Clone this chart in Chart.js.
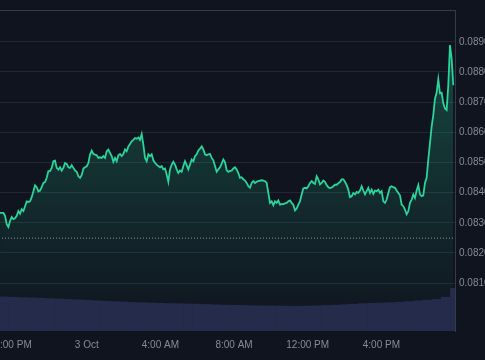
<!DOCTYPE html>
<html>
<head>
<meta charset="utf-8">
<script src="https://cdn.jsdelivr.net/npm/chart.js@4/dist/chart.umd.min.js"></script>
<style>
  html, body { margin: 0; padding: 0; background: #10141f; overflow: hidden; }
  body { width: 485px; height: 360px; position: relative; }
  #wrap { position: absolute; left: -40px; top: 0; width: 540px; height: 360px; }
</style>
</head>
<body>
<div id="wrap"><canvas id="priceChart"></canvas></div>
<script>
// -----------------------------
// Data (minutes from 00:00, 3 Oct)
// -----------------------------
const priceStartMin = -282.5;
const priceStepMin = 5.43;
const prices = [
  0.08333, 0.08333, 0.08333, 0.08323, 0.08295, 0.08286, 0.08306, 0.08319, 0.08312, 0.08315,
  0.08323, 0.08339, 0.08330, 0.08345, 0.08339, 0.08355, 0.08371, 0.08369, 0.08371, 0.08385,
  0.08404, 0.08424, 0.08418, 0.08404, 0.08407, 0.08418, 0.08432, 0.08435, 0.08449, 0.08471,
  0.08471, 0.08482, 0.08504, 0.08506, 0.08482, 0.08476, 0.08484, 0.08473, 0.08482, 0.08498,
  0.08495, 0.08484, 0.08482, 0.08491, 0.08482, 0.08473, 0.08469, 0.08454, 0.08449, 0.08458,
  0.08480, 0.08484, 0.08487, 0.08498, 0.08526, 0.08539, 0.08528, 0.08526, 0.08524, 0.08515,
  0.08517, 0.08515, 0.08521, 0.08515, 0.08537, 0.08543, 0.08532, 0.08521, 0.08502, 0.08515,
  0.08504, 0.08524, 0.08528, 0.08521, 0.08528, 0.08543, 0.08537, 0.08553, 0.08561, 0.08570,
  0.08575, 0.08581, 0.08579, 0.08583, 0.08575, 0.08594, 0.08559, 0.08515, 0.08504, 0.08527,
  0.08521, 0.08527, 0.08507, 0.08499, 0.08493, 0.08488, 0.08484, 0.08488, 0.08477, 0.08480,
  0.08460, 0.08436, 0.08477, 0.08493, 0.08502, 0.08493, 0.08477, 0.08465, 0.08473, 0.08469,
  0.08488, 0.08504, 0.08491, 0.08477, 0.08493, 0.08510, 0.08504, 0.08521, 0.08527, 0.08540,
  0.08546, 0.08553, 0.08543, 0.08527, 0.08524, 0.08527, 0.08528, 0.08515, 0.08507, 0.08488,
  0.08469, 0.08477, 0.08484, 0.08496, 0.08510, 0.08501, 0.08474, 0.08469, 0.08472, 0.08473,
  0.08480, 0.08484, 0.08477, 0.08465, 0.08449, 0.08451, 0.08444, 0.08440, 0.08432, 0.08421,
  0.08416, 0.08432, 0.08438, 0.08432, 0.08436, 0.08438, 0.08440, 0.08441, 0.08440, 0.08438,
  0.08432, 0.08399, 0.08366, 0.08371, 0.08358, 0.08371, 0.08366, 0.08374, 0.08360, 0.08362,
  0.08362, 0.08364, 0.08366, 0.08371, 0.08374, 0.08366, 0.08360, 0.08341, 0.08347, 0.08360,
  0.08371, 0.08394, 0.08414, 0.08416, 0.08414, 0.08421, 0.08432, 0.08438, 0.08432, 0.08429,
  0.08454, 0.08444, 0.08427, 0.08432, 0.08440, 0.08436, 0.08425, 0.08418, 0.08415, 0.08417,
  0.08421, 0.08426, 0.08426, 0.08431, 0.08435, 0.08444, 0.08444, 0.08436, 0.08425, 0.08410,
  0.08385, 0.08388, 0.08399, 0.08394, 0.08402, 0.08399, 0.08407, 0.08421, 0.08407, 0.08394,
  0.08405, 0.08416, 0.08399, 0.08410, 0.08396, 0.08407, 0.08405, 0.08410, 0.08399, 0.08405,
  0.08371, 0.08366, 0.08377, 0.08399, 0.08418, 0.08421, 0.08418, 0.08416, 0.08407, 0.08399,
  0.08391, 0.08360, 0.08355, 0.08344, 0.08328, 0.08338, 0.08366, 0.08377, 0.08394, 0.08382,
  0.08407, 0.08425, 0.08394, 0.08388, 0.08391, 0.08432, 0.08449, 0.08510, 0.08564, 0.08619,
  0.08657, 0.08712, 0.08731, 0.08776, 0.08729, 0.08731, 0.08696, 0.08679, 0.08674, 0.08756,
  0.08889, 0.08844, 0.08756
];

const prevClose = 0.08249;

const volStartMin = -300;
const volStepMin = 30;
const volumes = [
  10.68, 10.62, 10.53, 10.43, 10.34, 10.22, 10.09, 9.97, 9.85, 9.72,
  9.60, 9.44, 9.29, 9.16, 9.04, 8.92, 8.82, 8.73, 8.64, 8.54,
  8.48, 8.42, 8.36, 8.27, 8.17, 8.08, 8.02, 7.96, 7.89, 7.83,
  7.80, 7.77, 7.74, 7.74, 7.77, 7.83, 7.96, 8.05, 8.20, 8.36,
  8.51, 8.64, 8.73, 8.82, 8.98, 9.16, 9.38, 9.60, 9.85, 10.53,
  13.31
];

const tickTimes = [-240, 0, 240, 480, 720, 960];
const tickLabels = ["8:00 PM", "3 Oct", "4:00 AM", "8:00 AM", "12:00 PM", "4:00 PM"];
const priceTicks = [0.081, 0.082, 0.083, 0.084, 0.085, 0.086, 0.087, 0.088, 0.089];

const xMin = -413, xMax = 1200;

// -----------------------------
// Build datasets
// -----------------------------
const pricePoints = prices.map((p, i) => ({ x: priceStartMin + i * priceStepMin, y: p }));
const volPoints = volumes.map((v, i) => ({ x: volStartMin + i * volStepMin, y: v }));
const closePoints = [{ x: xMin, y: prevClose }, { x: xMax, y: prevClose }];

function areaGradient(ctx) {
  const area = ctx.chart.chartArea;
  if (!area) return 'rgba(42,212,154,0.15)';
  const g = ctx.chart.ctx.createLinearGradient(0, area.top, 0, area.bottom);
  g.addColorStop(0, 'rgba(42,212,154,0.30)');
  g.addColorStop(1, 'rgba(42,212,154,0.0)');
  return g;
}

const tickFont = { family: "'Liberation Sans', Arial, sans-serif", size: 10 };
const tickColor = '#868b96';

new Chart(document.getElementById('priceChart'), {
  data: {
    datasets: [
      {
        type: 'bar',
        data: volPoints,
        yAxisID: 'yVol',
        backgroundColor: '#252c4b',
        borderWidth: 0,
        barPercentage: 1,
        categoryPercentage: 1,
        clip: 0,
        order: 0
      },
      {
        type: 'line',
        data: closePoints,
        yAxisID: 'y',
        borderColor: '#8d929d',
        borderWidth: 1,
        borderDash: [1, 2],
        pointRadius: 0,
        fill: false,
        order: 1
      },
      {
        type: 'line',
        data: pricePoints,
        yAxisID: 'y',
        borderColor: '#2ad49a',
        borderWidth: 1.8,
        pointRadius: 0,
        tension: 0,
        fill: 'start',
        backgroundColor: areaGradient,
        order: 2
      }
    ]
  },
  options: {
    responsive: true,
    maintainAspectRatio: false,
    animation: false,
    layout: { padding: { top: 8, left: 0, right: 0, bottom: 0 } },
    plugins: { legend: { display: false }, tooltip: { enabled: false } },
    scales: {
      x: {
        type: 'linear',
        position: 'bottom',
        min: xMin,
        max: xMax,
        offset: false,
        grid: { display: false, drawTicks: false, offset: false },
        border: { display: false },
        afterBuildTicks: s => { s.ticks = tickTimes.map(v => ({ value: v })); },
        afterFit: s => { s.height = 29; },
        ticks: {
          padding: 8,
          maxRotation: 0,
          autoSkip: false,
          color: tickColor,
          font: tickFont,
          callback: v => tickLabels[tickTimes.indexOf(v)]
        }
      },
      xTop: {
        type: 'linear',
        position: 'top',
        min: xMin,
        max: xMax,
        offset: false,
        grid: { display: false, drawTicks: false },
        ticks: { display: false },
        border: { display: true, color: '#363b4a', width: 1 }
      },
      y: {
        type: 'linear',
        position: 'right',
        min: 0.079412,
        max: 0.090054,
        grid: { color: '#212636', drawTicks: false },
        border: { display: true, color: '#363b4a', width: 1 },
        afterBuildTicks: s => { s.ticks = priceTicks.map(v => ({ value: v })); },
        afterFit: s => { s.width = 45; },
        ticks: {
          padding: 4,
          color: tickColor,
          font: tickFont,
          callback: v => v.toFixed(4)
        }
      },
      yVol: {
        type: 'linear',
        position: 'left',
        display: false,
        min: 0,
        max: 100
      }
    }
  }
});
</script>
</body>
</html>
